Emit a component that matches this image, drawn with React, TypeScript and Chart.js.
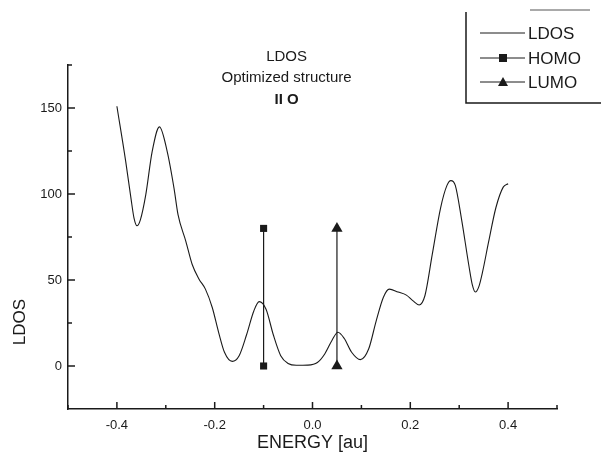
import React, { useEffect, useRef } from "react";
import { Chart, registerables } from "chart.js";

Chart.register(...registerables);

// ---- data ----
const energy = [
  -0.4, -0.382, -0.371, -0.365, -0.359, -0.352, -0.341, -0.328, -0.313, -0.297, -0.283, -0.275,
  -0.259, -0.246, -0.232, -0.219, -0.205, -0.192, -0.18, -0.164, -0.15, -0.135,
  -0.12, -0.109, -0.095, -0.08, -0.065, -0.05, -0.033, -0.01, 0.01, 0.025,
  0.04, 0.052, 0.065, 0.08, 0.098, 0.115, 0.13, 0.145, 0.157, 0.175,
  0.192, 0.205, 0.218, 0.23, 0.245, 0.262, 0.275, 0.283, 0.292, 0.305,
  0.32, 0.327, 0.333, 0.34, 0.348, 0.36, 0.375, 0.39, 0.4,
];
const ldos = [
  151, 119, 97, 86, 81.5, 85, 99.5, 124.5, 139, 124.5, 103, 88,
  72.5, 59, 50.5, 44.7, 34, 19.6, 8, 2.7, 6, 18,
  32, 37.4, 33, 18, 6, 1.5, 0.4, 0.5, 2, 7,
  15, 19.6, 16, 8, 3.7, 10, 26, 40, 44.7, 43,
  41.2, 38, 35.5, 41, 65, 92, 105, 107.8, 105, 85,
  58, 47, 43, 46, 55, 72, 92, 104, 106,
];
const homoEnergy = [-0.1, -0.1];
const homoValue = [0, 80];
const lumoEnergy = [0.05, 0.05];
const lumoValue = [0, 80];

const seriesLabels = ["LDOS", "HOMO", "LUMO"];
const xTicks = [-0.4, -0.2, 0.0, 0.2, 0.4];
const xMinorTicks = [-0.5, -0.3, -0.1, 0.1, 0.3, 0.5];
const yTicks = [0, 50, 100, 150];
const yMinorTicks = [25, 75, 125, 175];
const titleLines = ["LDOS", "Optimized structure", "II O"];
const xTitle = "ENERGY [au]";
const yTitle = "LDOS";

const FONT = "'Liberation Sans', Arial, Helvetica, sans-serif";
const INK = "#1a1a1a";

const toPts = (xs: number[], ys: number[]) => xs.map((x, i) => ({ x, y: ys[i] }));

const decorPlugin = {
  id: "decor",
  afterDraw(chart: any) {
    const ctx = chart.ctx as CanvasRenderingContext2D;
    const xs = chart.scales.x;
    const ys = chart.scales.y;
    const area = chart.chartArea;
    ctx.save();
    // inward ticks
    ctx.strokeStyle = INK;
    ctx.lineWidth = 1.5;
    const tickX = (v: number, len: number) => {
      const px = xs.getPixelForValue(v);
      ctx.beginPath();
      ctx.moveTo(px, area.bottom);
      ctx.lineTo(px, area.bottom - len);
      ctx.stroke();
    };
    const tickY = (v: number, len: number) => {
      const py = ys.getPixelForValue(v);
      ctx.beginPath();
      ctx.moveTo(area.left, py);
      ctx.lineTo(area.left + len, py);
      ctx.stroke();
    };
    xTicks.forEach((v) => tickX(v, 7));
    xMinorTicks.forEach((v) => tickX(v, 4));
    yTicks.forEach((v) => tickY(v, 7));
    yMinorTicks.forEach((v) => tickY(v, 4));

    // title lines
    ctx.fillStyle = INK;
    ctx.textAlign = "center";
    ctx.textBaseline = "middle";
    const tx = xs.getPixelForValue(-0.053);
    ctx.font = `15px ${FONT}`;
    ctx.fillText(titleLines[0], tx, 57);
    ctx.fillText(titleLines[1], tx, 78);
    ctx.font = `bold 15px ${FONT}`;
    ctx.fillText(titleLines[2], tx, 100);

    // axis titles
    ctx.font = `18px ${FONT}`;
    ctx.fillText(xTitle, (area.left + area.right) / 2, 443);
    ctx.save();
    ctx.translate(20, 322);
    ctx.rotate(-Math.PI / 2);
    ctx.font = `17px ${FONT}`;
    ctx.fillText(yTitle, 0, 0);
    ctx.restore();

    // legend box
    ctx.lineWidth = 1.5;
    ctx.beginPath();
    ctx.moveTo(466, 12);
    ctx.lineTo(466, 103);
    ctx.lineTo(601, 103);
    ctx.stroke();
    ctx.lineWidth = 1;
    ctx.strokeStyle = "#555";
    ctx.beginPath();
    ctx.moveTo(530, 10);
    ctx.lineTo(590, 10);
    ctx.stroke();

    const rows = [33, 58, 82];
    ctx.textAlign = "left";
    ctx.font = `17px ${FONT}`;
    rows.forEach((ry, i) => {
      ctx.strokeStyle = INK;
      ctx.lineWidth = 1;
      ctx.beginPath();
      ctx.moveTo(480, ry);
      ctx.lineTo(525, ry);
      ctx.stroke();
      ctx.fillStyle = INK;
      if (i === 1) {
        ctx.fillRect(499, ry - 4, 8, 8);
      } else if (i === 2) {
        ctx.beginPath();
        ctx.moveTo(503, ry - 5);
        ctx.lineTo(508, ry + 4);
        ctx.lineTo(498, ry + 4);
        ctx.closePath();
        ctx.fill();
      }
      ctx.fillText(seriesLabels[i], 528, ry + 1);
    });
    ctx.restore();
  },
};

export default function App() {
  const ref = useRef<HTMLCanvasElement>(null);
  useEffect(() => {
    if (!ref.current) return;
    const chart = new Chart(ref.current, {
      type: "line",
      data: {
        datasets: [
          {
            label: seriesLabels[0],
            data: toPts(energy, ldos),
            borderColor: INK,
            borderWidth: 1.1,
            pointRadius: 0,
            cubicInterpolationMode: "monotone",
          },
          {
            label: seriesLabels[1],
            data: toPts(homoEnergy, homoValue),
            borderColor: INK,
            borderWidth: 1.2,
            pointStyle: "rect",
            pointRadius: 5,
            pointBackgroundColor: INK,
            pointBorderColor: INK,
            pointBorderWidth: 0,
          },
          {
            label: seriesLabels[2],
            data: toPts(lumoEnergy, lumoValue),
            borderColor: INK,
            borderWidth: 1.2,
            pointStyle: "triangle",
            pointRadius: 6.5,
            pointBackgroundColor: INK,
            pointBorderColor: INK,
            pointBorderWidth: 0,
          },
        ],
      },
      options: {
        animation: false,
        responsive: false,
        events: [],
        layout: { padding: { top: 65, right: 44, left: 0, bottom: 0 } },
        plugins: { legend: { display: false }, tooltip: { enabled: false } },
        scales: {
          x: {
            type: "linear",
            min: -0.5,
            max: 0.5,
            grid: { display: false, drawTicks: false },
            border: { display: true, color: INK, width: 1.5 },
            afterBuildTicks: (s: any) => {
              s.ticks = xTicks.map((v) => ({ value: v }));
            },
            afterFit: (s: any) => {
              s.height = 47;
            },
            ticks: {
              padding: 9,
              color: INK,
              font: { family: FONT, size: 13 },
              maxRotation: 0,
              callback: (v: any) => Number(v).toFixed(1),
            },
          },
          y: {
            type: "linear",
            min: -25,
            max: 175,
            grid: { display: false, drawTicks: false },
            border: { display: true, color: INK, width: 1.5 },
            afterBuildTicks: (s: any) => {
              s.ticks = yTicks.map((v) => ({ value: v }));
            },
            afterFit: (s: any) => {
              s.width = 68;
            },
            ticks: {
              padding: 6,
              color: INK,
              font: { family: FONT, size: 13 },
              callback: (v: any) => String(v),
            },
          },
        },
      },
      plugins: [decorPlugin],
    } as any);
    return () => chart.destroy();
  }, []);
  return (
    <div style={{ position: "fixed", left: 0, top: 0, width: 601, height: 456, background: "#fff" }}>
      <canvas ref={ref} width={601} height={456} style={{ display: "block" }} />
    </div>
  );
}
